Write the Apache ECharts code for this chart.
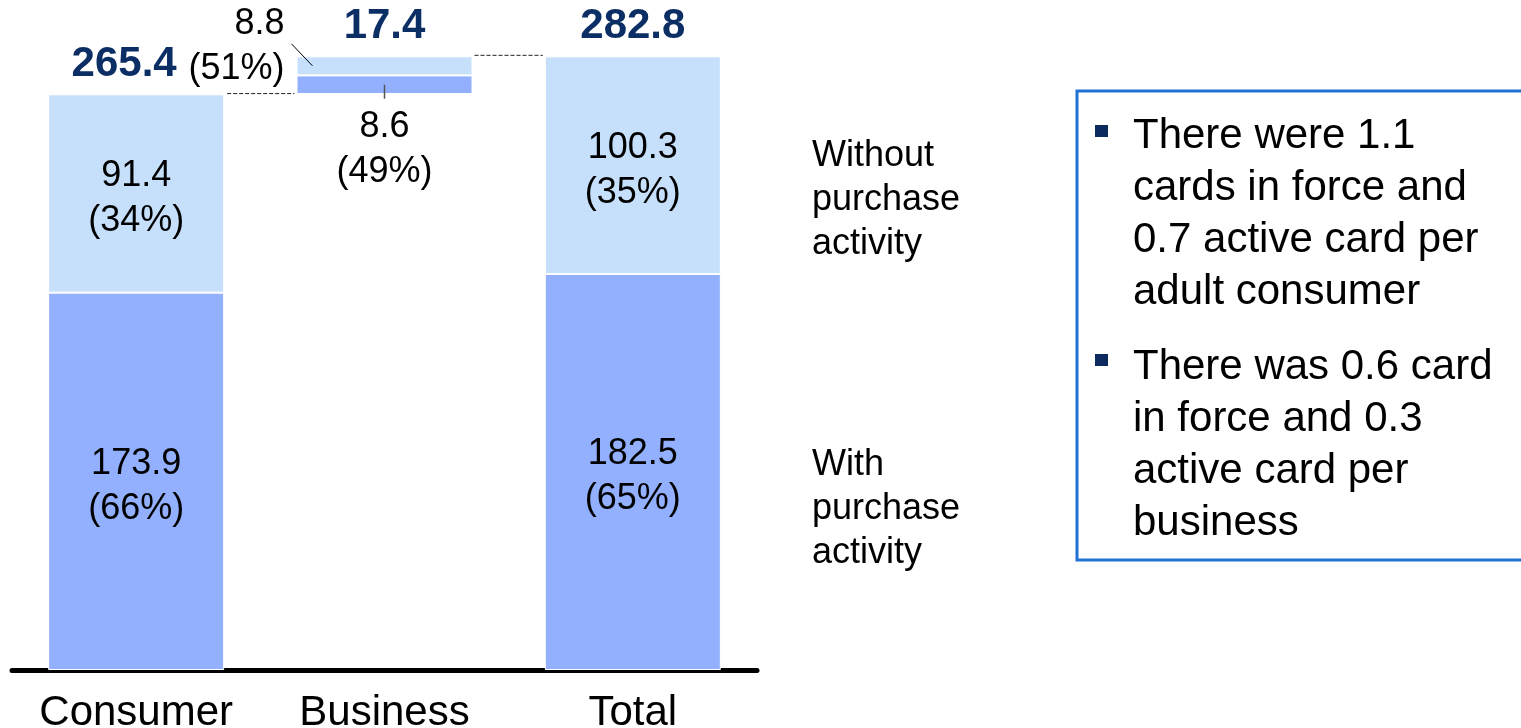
<!DOCTYPE html>
<html>
<head>
<meta charset="utf-8">
<script src="https://cdn.jsdelivr.net/npm/echarts@6/dist/echarts.min.js"></script>
<style>
  html, body { margin: 0; padding: 0; background: #fff; }
  #chart { width: 1521px; height: 728px; }
</style>
</head>
<body>
<div id="chart"></div>
<script>
// Cards in force (millions), split by purchase activity
const categories = ['Consumer', 'Business', 'Total'];
const baseValues = [0, 265.4, 0];              // invisible offset for the floating Business bar
const withPurchase = [173.9, 8.6, 182.5];
const withoutPurchase = [91.4, 8.8, 100.3];
const withShare = ['66%', '49%', '65%'];
const withoutShare = ['34%', '51%', '35%'];
const totalLabels = ['265.4', '17.4', '282.8'];
const sideLabels = ['Without\npurchase\nactivity', 'With\npurchase\nactivity'];
const notes = [
  ['There were 1.1', 'cards in force and', '0.7 active card per', 'adult consumer'],
  ['There was 0.6 card', 'in force and 0.3', 'active card per', 'business']
];

const FONT = "'Liberation Sans', Arial, sans-serif";
const DARK = '#92B0FE';
const LIGHT = '#C6E0FB';
const NAVY = '#0B2E64';

const stackTops = categories.map((_, i) => baseValues[i] + withPurchase[i] + withoutPurchase[i]);

const chart = echarts.init(document.getElementById('chart'), null, { renderer: 'canvas' });

const segLabel = (shares) => ({
  show: true,
  position: 'inside',
  offset: [0, 5],
  fontFamily: FONT,
  fontSize: 36,
  lineHeight: 45,
  color: '#000',
  formatter: (p) => p.value + '\n(' + shares[p.dataIndex] + ')'
});

const option = {
  animation: false,
  backgroundColor: '#fff',
  grid: { left: 12, right: 764, top: 19, bottom: 58, containLabel: false, outerBoundsMode: 'none' },
  xAxis: {
    type: 'category',
    data: categories,
    axisLine: { lineStyle: { color: '#000', width: 5 } },
    axisTick: { show: false },
    axisLabel: { interval: 0, hideOverlap: false, fontFamily: FONT, fontSize: 42, color: '#000', margin: 22 }
  },
  yAxis: { type: 'value', min: 0, max: 300, show: false, splitLine: { show: false } },
  series: [
    {
      name: 'base', type: 'bar', stack: 'cards', barWidth: 176, silent: true,
      itemStyle: { color: 'transparent' },
      data: baseValues
    },
    {
      name: 'With purchase activity', type: 'bar', stack: 'cards', barWidth: 176,
      itemStyle: { color: DARK, borderColor: '#fff', borderWidth: 1 },
      label: segLabel(withShare),
      data: withPurchase.map((v, i) => i === 1
        ? { value: v, label: { position: 'bottom', distance: 10, offset: [0, 0] } }
        : v)
    },
    {
      name: 'Without purchase activity', type: 'bar', stack: 'cards', barWidth: 176,
      itemStyle: { color: LIGHT, borderColor: '#fff', borderWidth: 1 },
      label: segLabel(withoutShare),
      data: withoutPurchase.map((v, i) => i === 1
        ? { value: v, label: { position: 'left', distance: 12, offset: [0, -19], align: 'right' } }
        : v)
    },
    {
      name: 'totals', type: 'scatter', symbolSize: 0, silent: true,
      itemStyle: { opacity: 1 },
      label: {
        show: true, position: 'top', distance: 9,
        fontFamily: FONT, fontSize: 42, fontWeight: 'bold', color: NAVY,
        formatter: (p) => totalLabels[p.dataIndex]
      },
      data: stackTops.map((v, i) => i === 0
        ? { value: v, label: { offset: [-12, 0] } }
        : v)
    }
  ]
};

chart.setOption(option);

// Annotations positioned from the data scale
const px = (cat, val) => chart.convertToPixel({ gridIndex: 0 }, [cat, val]);
const halfBar = 88;
const bizMidTop = px('Business', baseValues[1] + withPurchase[1] + withoutPurchase[1] / 2);
const bizMidLow = px('Business', baseValues[1] + withPurchase[1] / 2);
const consTop = px('Consumer', baseValues[1]);
const bizBase = px('Business', baseValues[1]);
const bizTop = px('Business', stackTops[1]);
const totTop = px('Total', stackTops[1]);

const graphics = [];
// leader lines
graphics.push({ type: 'line', silent: true, z: 100,
  shape: { x1: bizMidTop[0] - 72, y1: bizMidTop[1], x2: bizMidTop[0] - 93, y2: bizMidTop[1] - 22 },
  style: { stroke: '#000', lineWidth: 1 } });
graphics.push({ type: 'line', silent: true, z: 100,
  shape: { x1: bizMidLow[0], y1: bizMidLow[1], x2: bizMidLow[0], y2: bizMidLow[1] + 14 },
  style: { stroke: '#555', lineWidth: 1.5 } });
// dashed connectors between bars
graphics.push({ type: 'line', silent: true, z: 100,
  shape: { x1: consTop[0] + halfBar + 3, y1: consTop[1] - 0.5, x2: bizBase[0] - halfBar - 2, y2: consTop[1] - 0.5 },
  style: { stroke: '#222', lineWidth: 1, lineDash: [4, 2] } });
graphics.push({ type: 'line', silent: true, z: 100,
  shape: { x1: bizTop[0] + halfBar + 2, y1: bizTop[1] - 1, x2: totTop[0] - halfBar - 2, y2: bizTop[1] - 1 },
  style: { stroke: '#222', lineWidth: 1, lineDash: [4, 2] } });

// side legend text
[[134, sideLabels[0]], [443, sideLabels[1]]].forEach(([y, t]) => {
  graphics.push({ type: 'text', silent: true, x: 812, y: y,
    style: { text: t, font: '36px ' + FONT, fill: '#000', lineHeight: 44, textVerticalAlign: 'top' } });
});

// commentary box
graphics.push({ type: 'rect', silent: true,
  shape: { x: 1077, y: 91, width: 470, height: 469 },
  style: { fill: 'none', stroke: '#2272D6', lineWidth: 3 } });
[[110, 125, notes[0]], [341, 354, notes[1]]].forEach(([ty, by, lines]) => {
  graphics.push({ type: 'rect', silent: true,
    shape: { x: 1095, y: by, width: 13, height: 12 }, style: { fill: '#0C2A5E' } });
  graphics.push({ type: 'text', silent: true, x: 1133, y: ty,
    style: { text: lines.join('\n'), font: '42px ' + FONT, fill: '#000', lineHeight: 52, textVerticalAlign: 'top' } });
});

chart.setOption({ graphic: graphics });
</script>
</body>
</html>
